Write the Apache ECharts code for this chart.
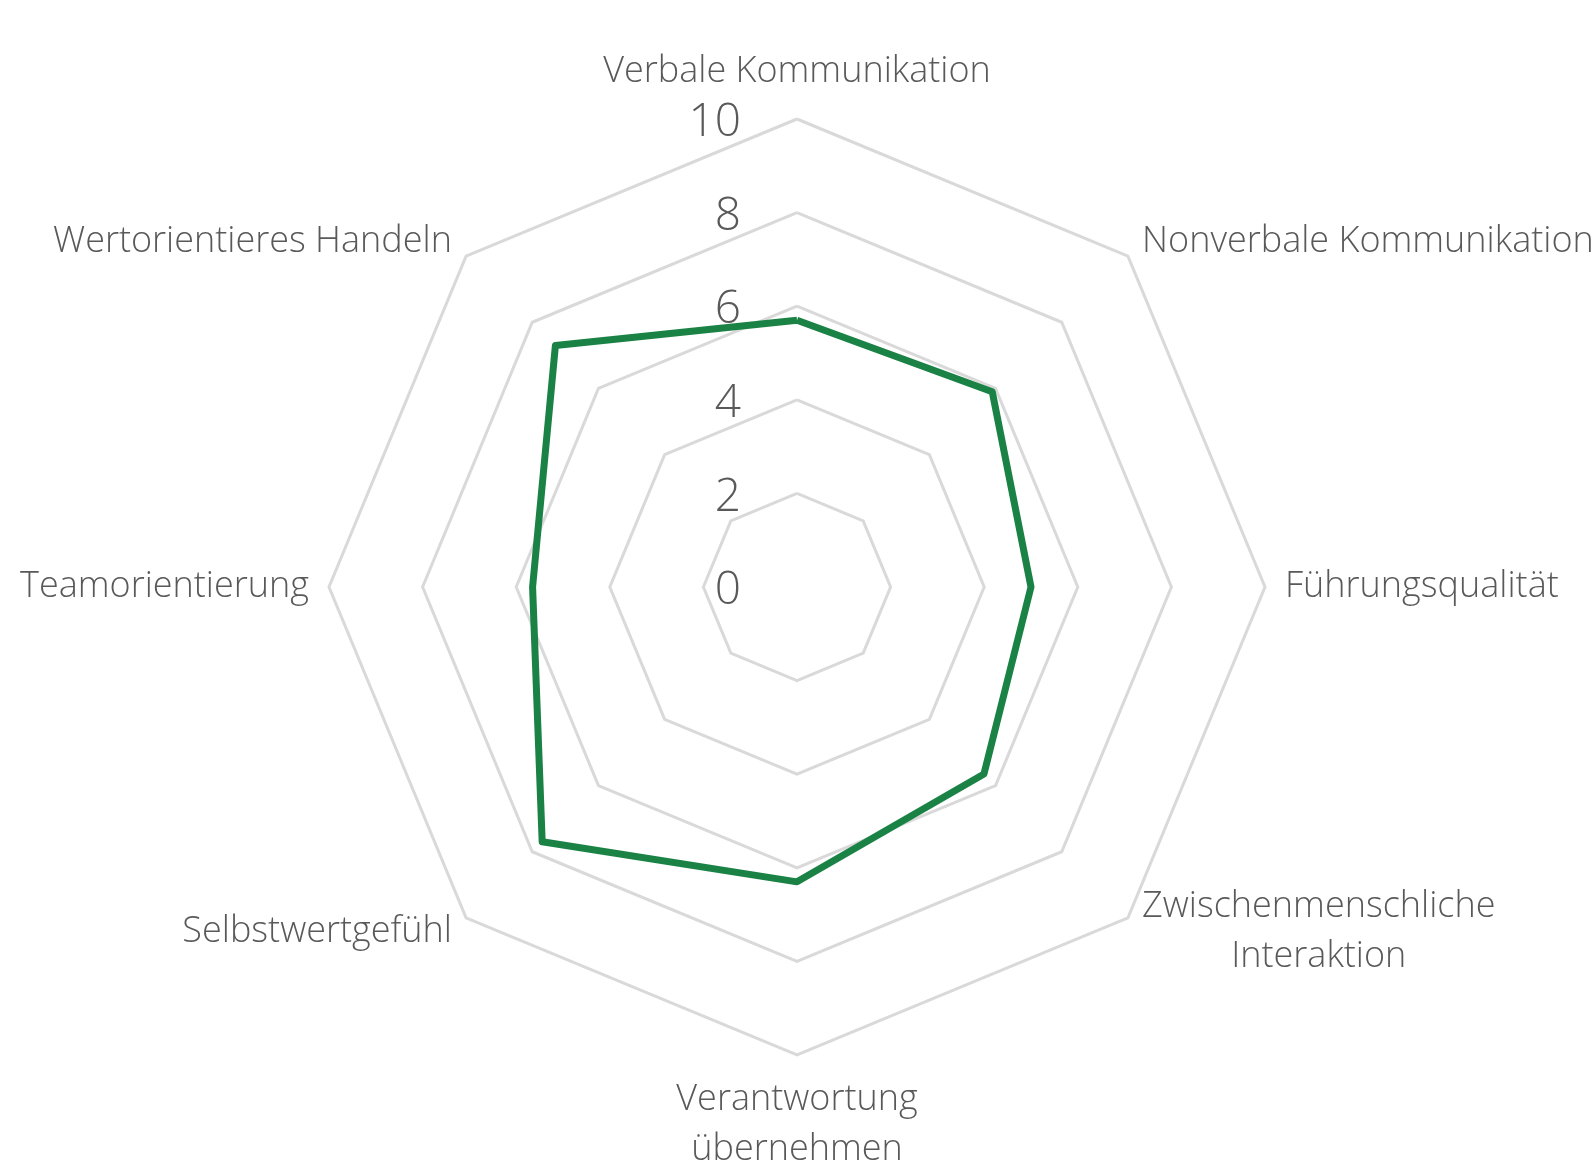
<!DOCTYPE html>
<html>
<head>
<meta charset="utf-8">
<script src="https://cdn.jsdelivr.net/npm/echarts@6/dist/echarts.min.js"></script>
<style>
  html, body { margin: 0; padding: 0; background: #fff; }
  #chart { width: 1596px; height: 1161px; }
</style>
</head>
<body>
<div id="chart"></div>
<script>
// Kategorien im Uhrzeigersinn, beginnend oben
const categories = [
    'Verbale Kommunikation',
    'Nonverbale Kommunikation',
    'Führungsqualität',
    'Zwischenmenschliche\nInteraktion',
    'Verantwortung\nübernehmen',
    'Selbstwertgefühl',
    'Teamorientierung',
    'Wertorientieres Handeln'
];
const values = [5.7, 5.9, 5.0, 5.65, 6.3, 7.7, 5.65, 7.3];
const tickLabels = [0, 2, 4, 6, 8, 10];

const textColor = '#595959';
const fontFamily = '"Open Sans", sans-serif';

// echarts legt die Achsen gegen den Uhrzeigersinn an -> Reihenfolge drehen
function ccw(arr) {
    return [arr[0]].concat(arr.slice(1).reverse());
}

let chart = echarts.init(document.getElementById('chart'));

let option = {
    backgroundColor: '#fff',
    animation: false,
    // unsichtbares Raster nur fuer die Skalenbeschriftung 0..10
    grid: {
        left: 797,
        right: 1596 - 798,
        top: 123,
        bottom: 1161 - 591
    },
    xAxis: { type: 'value', show: false },
    yAxis: {
        type: 'value',
        min: tickLabels[0],
        max: tickLabels[tickLabels.length - 1],
        interval: 2,
        axisLine: { show: false },
        axisTick: { show: false },
        splitLine: { show: false },
        axisLabel: {
            margin: 56,
            fontSize: 46,
            fontFamily: fontFamily,
            fontWeight: 300,
            color: textColor
        }
    },
    radar: {
        center: [797, 587],
        radius: 468,
        shape: 'polygon',
        splitNumber: 5,
        nameGap: 20,
        indicator: ccw(categories).map(function (c) {
            return { name: c, min: 0, max: 10 };
        }),
        axisName: {
            color: textColor,
            fontSize: 36,
            fontFamily: fontFamily,
            fontWeight: 300,
            formatter: function (name) {
                let tag = name === categories[0] ? 't' : 'n';
                return name.split('\n').map(function (s) {
                    return '{' + tag + '|' + s + '}';
                }).join('\n');
            },
            rich: {
                n: {
                    align: 'center',
                    lineHeight: 50,
                    fontSize: 36,
                    fontFamily: fontFamily,
                    fontWeight: 300,
                    color: textColor
                },
                t: {
                    align: 'center',
                    lineHeight: 50,
                    padding: [0, 0, 4, 0],
                    fontSize: 36,
                    fontFamily: fontFamily,
                    fontWeight: 300,
                    color: textColor
                }
            }
        },
        axisLine: { show: false },
        axisTick: { show: false },
        axisLabel: { show: false },
        splitArea: { show: false },
        splitLine: {
            lineStyle: { color: '#d9d9d9', width: 3 }
        }
    },
    series: [{
        type: 'radar',
        symbol: 'none',
        lineStyle: { color: '#1a8244', width: 7 },
        data: [{ value: ccw(values), name: 'Wert' }]
    }]
};

chart.setOption(option);
</script>
</body>
</html>
